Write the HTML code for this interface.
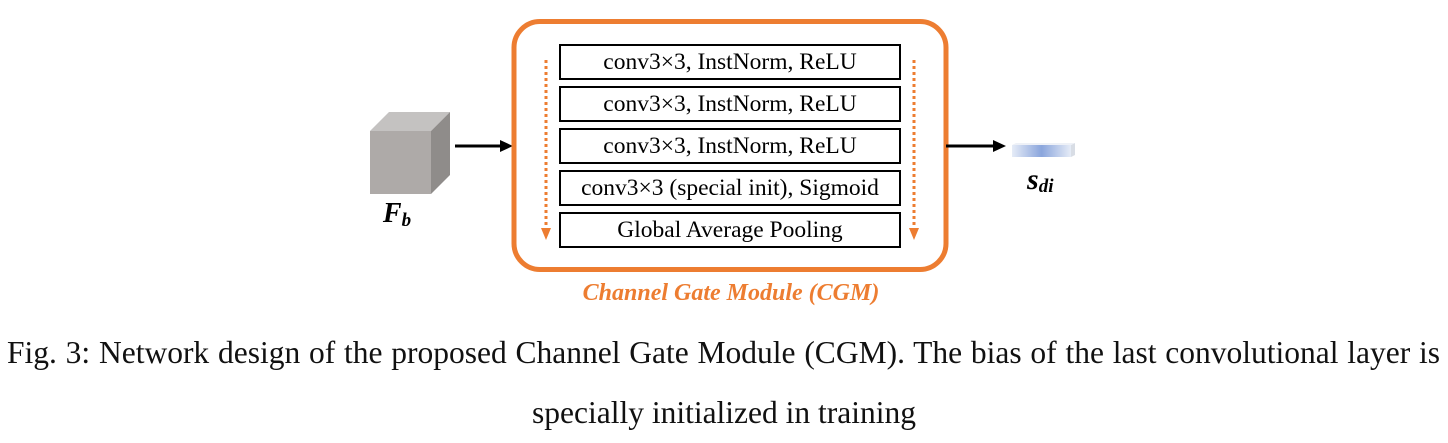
<!DOCTYPE html>
<html><head><meta charset="utf-8"><style>
body{margin:0;width:1448px;height:443px;background:#fff;position:relative;overflow:hidden;font-family:"Liberation Serif",serif}
.b{position:absolute;left:559px;width:338px;height:32px;border:2px solid #000;font-size:23.5px;line-height:32px;text-align:center;color:#000;white-space:nowrap}
.cap{position:absolute;font-size:31.5px;color:#111;white-space:nowrap}
</style></head><body>
<svg width="1448" height="443" style="position:absolute;left:0;top:0">
<defs><linearGradient id="g" x1="0" x2="1"><stop offset="0" stop-color="#e6ecf7"/><stop offset="0.5" stop-color="#8aa5dc"/><stop offset="1" stop-color="#e6ecf7"/></linearGradient></defs>
<polygon points="370,131 389,112 450,112 431,131" fill="#c4c2c1"/>
<polygon points="431,131 450,112 450,175 431,194" fill="#8f8c8a"/>
<rect x="370" y="131" width="61" height="63" fill="#aeaaa8"/>
<line x1="455" y1="146" x2="502" y2="146" stroke="#000" stroke-width="3"/>
<polygon points="500,140 513,146 500,152" fill="#000"/>
<rect x="514" y="21.5" width="432" height="248" rx="26" fill="none" stroke="#ed7d31" stroke-width="5"/>
<line x1="546" y1="60" x2="546" y2="228" stroke="#ed7d31" stroke-width="3" stroke-dasharray="3,3"/>
<polygon points="541,228 551,228 546,240" fill="#ed7d31"/>
<line x1="914" y1="60" x2="914" y2="228" stroke="#ed7d31" stroke-width="3" stroke-dasharray="3,3"/>
<polygon points="909,228 919,228 914,240" fill="#ed7d31"/>
<line x1="946" y1="146" x2="995" y2="146" stroke="#000" stroke-width="3"/>
<polygon points="993,140 1006,146 993,152" fill="#000"/>
<rect x="1012" y="145" width="59" height="12" fill="url(#g)"/>
<polygon points="1071,145 1075,143 1075,155 1071,157" fill="#d8dde5"/>
<polygon points="1012,145 1016,143 1075,143 1071,145" fill="#eef1f7"/>
<text x="397" y="222" font-family="Liberation Serif" font-weight="bold" font-style="italic" font-size="28" text-anchor="middle">F<tspan font-size="19" dy="4">b</tspan></text>
<text x="1027" y="189" font-family="Liberation Serif" font-weight="bold" font-style="italic" font-size="30">s<tspan font-size="19" dy="3">di</tspan></text>
<text x="731" y="300" fill="#ed7d31" font-family="Liberation Serif" font-weight="bold" font-style="italic" font-size="24" text-anchor="middle">Channel Gate Module (CGM)</text>
</svg>
<div class="b" style="top:44px">conv3×3, InstNorm, ReLU</div>
<div class="b" style="top:86px">conv3×3, InstNorm, ReLU</div>
<div class="b" style="top:128px">conv3×3, InstNorm, ReLU</div>
<div class="b" style="top:170px">conv3×3 (special init), Sigmoid</div>
<div class="b" style="top:212px">Global Average Pooling</div>
<div class="cap" style="left:7px;top:335px;width:1433px;text-align:justify;text-align-last:justify">Fig. 3: Network design of the proposed Channel Gate Module (CGM). The bias of the last convolutional layer is</div>
<div class="cap" style="left:0;top:395px;width:1448px;text-align:center">specially initialized in training</div>
</body></html>
